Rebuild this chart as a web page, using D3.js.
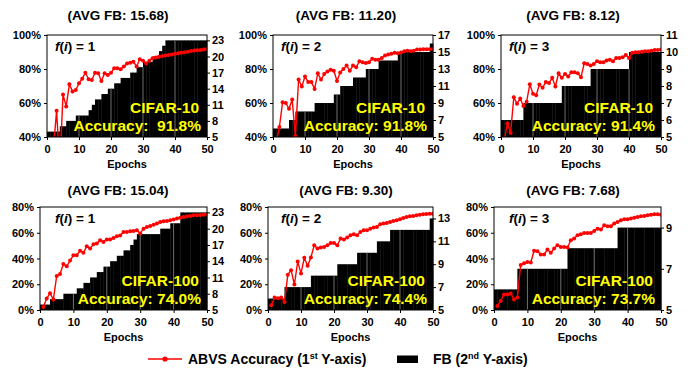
<!DOCTYPE html>
<html>
<head>
<meta charset="utf-8">
<script src="https://cdn.jsdelivr.net/npm/d3@7/dist/d3.min.js"></script>
<style>
  body { margin: 0; background: #fff; }
  svg text { font-family: "Liberation Sans", Arial, sans-serif; font-weight: bold; fill: #000; }
</style>
</head>
<body>
<svg id="chart" width="692" height="370"></svg>
<script>
// ---- data ----
const epochs = d3.range(1, 51);
const xTicks = [0, 10, 20, 30, 40, 50];

const titles = ["(AVG FB: 15.68)", "(AVG FB: 11.20)", "(AVG FB: 8.12)",
                "(AVG FB: 15.04)", "(AVG FB: 9.30)", "(AVG FB: 7.68)"];
const fLabels = ["1", "2", "3", "1", "2", "3"];
const datasets = ["CIFAR-10", "CIFAR-10", "CIFAR-10", "CIFAR-100", "CIFAR-100", "CIFAR-100"];
const accLabels = ["Accuracy:  91.8%", "Accuracy: 91.8%", "Accuracy: 91.4%",
                   "Accuracy: 74.0%", "Accuracy: 74.4%", "Accuracy: 73.7%"];

// ABVS accuracy (%) per epoch
const acc10f1 = [25, 33, 55.5, 22, 65, 58, 71, 66.7, 67.6, 71.6, 74.3, 77.8, 74, 73.5, 77.8, 77.5, 73, 77.5, 76.5, 77.8,
  80.4, 80.4, 79.8, 81.4, 83.3, 83.7, 84.3, 81.4, 85.7, 84.9, 83.3, 84.9, 86.3, 86.8, 87.2, 87.6, 88, 88.3, 88.6, 89,
  89.3, 89.6, 89.9, 90.2, 90.6, 90.9, 91, 91.2, 91.5, 91.8];
const acc10f2 = [37, 45.9, 60.5, 60, 56.6, 62, 40.4, 73.8, 69.7, 75.6, 72.3, 72.3, 68.3, 77.5, 73.8, 77, 78.5, 79.5, 79, 73,
  78, 80, 82, 79, 82, 81, 84.5, 84, 83.6, 84, 86, 85.4, 85.4, 86.5, 87.9, 88.5, 88.9, 89.5, 89.3, 89.7,
  90.5, 90.8, 90.5, 90.8, 91.4, 91.4, 91.6, 91.6, 91.6, 91.8];
const acc10f3 = [38, 48, 42.4, 63.4, 59.6, 62.6, 58.2, 60.7, 71, 65.4, 64.6, 70.9, 68.9, 72.3, 71.7, 74.8, 69.7, 77.5, 74.8, 77.1,
  75.6, 78.1, 78.1, 77.5, 75.2, 83.4, 83, 82, 83, 84.6, 84, 84, 85, 85.4, 84.6, 86.5, 86.5, 86.9, 88.3, 86.5,
  89.5, 89.8, 89.8, 90.2, 90.4, 90.4, 90.8, 91.2, 91.2, 91.4];
const acc100f1 = [2.4, 8.9, 13.1, 8.1, 26.5, 28, 35.8, 33.9, 38.4, 42.5, 42.6, 46, 44.4, 49.5, 47.7, 51, 51.6, 54.2, 52.9, 54.8,
  54.8, 56, 57.2, 57.8, 60.6, 60.6, 61.2, 61.4, 61.9, 59.4, 63.2, 64.5, 65.3, 66.3, 67.1, 68.4, 68.9, 69.2, 69.7, 70.2,
  71, 71.7, 72.3, 72.8, 73, 73.5, 73.5, 73.8, 74, 74.3];
const acc100f2 = [3.6, 9.8, 9.2, 9.8, 6.3, 27.3, 30.9, 19.8, 37.6, 28.4, 40.5, 34.3, 40.8, 50.3, 47.7, 48.5, 49, 50.3, 52.1, 52.1,
  50.3, 55.5, 54.7, 56.3, 58, 58.8, 58, 60.6, 61.9, 61.9, 63.2, 64, 64.5, 66.6, 67.1, 67.6, 68.4, 69.2, 69.7, 70.5,
  71.5, 72.3, 72.8, 73, 73.5, 74, 74.3, 74.6, 74.8, 74.8];
const acc100f3 = [3.1, 7, 12.1, 12.1, 12.8, 8.1, 9.8, 35, 36.3, 37.2, 36.9, 46, 45.7, 43.1, 43.1, 47, 44.4, 47.7, 50.3, 49,
  49, 48.5, 54.2, 55.5, 58, 58.8, 59.9, 59.9, 59.9, 61.4, 63.2, 62.5, 65.8, 65, 65, 67.1, 68.4, 69.7, 70.5, 70.5,
  71, 71.7, 72.3, 72.8, 73, 73.5, 74, 74.3, 74.3, 74];

// FB per epoch (2nd y-axis)
const fb10f1 = [6, 6, 6, 6, 7, 7, 8, 8, 8, 9, 9, 9, 9, 10, 11, 12, 12, 13, 13, 14,
  14, 15, 15, 16, 16, 16, 17, 17, 18, 18, 19, 19, 19, 20, 20, 21, 22, 23, 23, 23,
  23, 23, 23, 23, 23, 23, 23, 23, 23, 23];
const fb10f2 = [6, 6, 6, 6, 6, 7, 7, 8, 8, 8, 8, 8, 8, 9, 9, 9, 9, 9, 9, 10,
  10, 11, 11, 11, 11, 12, 12, 12, 12, 13, 13, 13, 13, 14, 14, 14, 14, 14, 14, 15,
  15, 15, 15, 15, 15, 15, 15, 15, 15, 16];
const fb10f3 = [6, 6, 6, 6, 6, 6, 6, 7, 7, 7, 7, 7, 7, 7, 7, 7, 7, 7, 7, 8,
  8, 8, 8, 8, 8, 8, 8, 8, 9, 9, 9, 9, 9, 9, 9, 9, 9, 9, 9, 9,
  10, 10, 10, 10, 10, 10, 10, 10, 10, 10];
const fb100f1 = [6, 6, 6, 7, 7, 7, 7, 8, 8, 8, 8, 9, 9, 10, 10, 11, 11, 12, 12, 13,
  13, 14, 14, 15, 15, 16, 16, 17, 18, 19, 19, 19, 19, 19, 19, 19, 20, 20, 20, 21,
  21, 21, 23, 23, 23, 23, 23, 23, 23, 23];
const fb100f2 = [6, 6, 6, 6, 6, 7, 7, 7, 7, 7, 7, 7, 7, 8, 8, 8, 8, 8, 8, 8,
  8, 9, 9, 9, 9, 9, 9, 10, 10, 10, 10, 10, 10, 11, 11, 11, 11, 12, 12, 12,
  12, 12, 12, 12, 12, 12, 12, 12, 12, 13];
const fb100f3 = [6, 6, 6, 6, 6, 6, 6, 7, 7, 7, 7, 7, 7, 7, 7, 7, 7, 7, 7, 7,
  7, 7, 8, 8, 8, 8, 8, 8, 8, 8, 8, 8, 8, 8, 8, 8, 8, 9, 9, 9,
  9, 9, 9, 9, 9, 9, 9, 9, 9, 9];

const accTicksTop = [40, 60, 80, 100];
const accTicksBottom = [0, 20, 40, 60, 80];
const fbTicks = [[5, 8, 11, 14, 17, 20, 23], [5, 7, 9, 11, 13, 15, 17], [5, 6, 7, 8, 9, 10, 11],
                 [5, 8, 11, 14, 17, 20, 23], [5, 7, 9, 11, 13], [5, 7, 9]];
const fbMax = [24, 17, 11, 24, 14, 10];

// ---- layout ----
const accSeries = [acc10f1, acc10f2, acc10f3, acc100f1, acc100f2, acc100f3];
const fbSeries = [fb10f1, fb10f2, fb10f3, fb100f1, fb100f2, fb100f3];
const colLeftTop = [47, 273, 501];
const colLeftBottom = [40, 268, 494];
const colRight = [207, 433, 661];
const titleX = [118, 346, 573];
const rows = [{top: 35, bottom: 137, titleY: 20, ticks: accTicksTop, dom: [40, 100]},
              {top: 207, bottom: 310, titleY: 194.5, ticks: accTicksBottom, dom: [0, 80]}];

const svg = d3.select("#chart");
const red = "#ff0000";

accSeries.forEach((acc, i) => {
  const r = rows[Math.floor(i / 3)], c = i % 3;
  const left = i < 3 ? colLeftTop[c] : colLeftBottom[c];
  const right = colRight[c];
  const x = d3.scaleLinear().domain([0, 50]).range([left, right]);
  const yAcc = d3.scaleLinear().domain(r.dom).range([r.bottom, r.top]);
  const yFb = d3.scaleLinear().domain([5, fbMax[i]]).range([r.bottom, r.top]);
  const fb = fbSeries[i];
  const g = svg.append("g");

  svg.append("clipPath").attr("id", "clip" + i)
    .append("rect").attr("x", left).attr("y", r.top).attr("width", right - left).attr("height", r.bottom - r.top);

  // FB bars
  g.append("g").selectAll("rect").data(fb).join("rect")
    .attr("x", (d, k) => x(k))
    .attr("width", (d, k) => x(k + 1) - x(k) + 0.4)
    .attr("y", d => yFb(d))
    .attr("height", d => r.bottom - yFb(d))
    .attr("fill", "#000");

  // faint seams between bars
  g.append("g").selectAll("line").data([10, 20, 30, 40]).join("line")
    .attr("x1", d => x(d)).attr("x2", d => x(d))
    .attr("y1", r.bottom)
    .attr("y2", d => yFb(Math.min(fb[d - 1], fb[d])))
    .attr("stroke", "#8a8a8a").attr("stroke-width", 0.8);

  // accuracy line
  const lg = g.append("g").attr("clip-path", "url(#clip" + i + ")");
  lg.append("path").datum(acc)
    .attr("fill", "none").attr("stroke", red).attr("stroke-width", 1.4)
    .attr("d", d3.line().x((d, k) => x(epochs[k])).y(d => yAcc(d)));
  lg.selectAll("circle").data(acc).join("circle")
    .attr("cx", (d, k) => x(epochs[k])).attr("cy", d => yAcc(d)).attr("r", 2)
    .attr("fill", red);

  // frame
  g.append("rect").attr("x", left).attr("y", r.top)
    .attr("width", right - left).attr("height", r.bottom - r.top)
    .attr("fill", "none").attr("stroke", "#000").attr("stroke-width", 1);

  // axes
  const ax = g.append("g").attr("transform", `translate(0,${r.bottom})`)
    .call(d3.axisBottom(x).tickValues(xTicks).tickSize(3).tickPadding(5));
  const ay = g.append("g").attr("transform", `translate(${left},0)`)
    .call(d3.axisLeft(yAcc).tickValues(r.ticks).tickFormat(d => d + "%").tickSize(3).tickPadding(3));
  const ay2 = g.append("g").attr("transform", `translate(${right},0)`)
    .call(d3.axisRight(yFb).tickValues(fbTicks[i]).tickFormat(d3.format("d")).tickSize(3).tickPadding(2));
  [ax, ay, ay2].forEach(a => {
    a.select(".domain").remove();
    a.selectAll("text").attr("font-size", 11).attr("font-family", null);
    a.attr("font-family", null);
  });

  // labels
  g.append("text").attr("x", titleX[c]).attr("y", r.titleY)
    .attr("text-anchor", "middle").attr("font-size", 13.5).text(titles[i]);
  g.append("text").attr("x", (left + right) / 2).attr("y", r.bottom + 31)
    .attr("text-anchor", "middle").attr("font-size", 11).text("Epochs");

  const ft = g.append("text").attr("x", colLeftTop[c] + 8).attr("y", r.top + 16).attr("font-size", 13.5);
  ft.append("tspan").attr("font-style", "italic").text("f");
  ft.append("tspan").text("(");
  ft.append("tspan").attr("font-style", "italic").text("i");
  ft.append("tspan").text(") = " + fLabels[i]);

  g.append("text").attr("x", right - 8).attr("y", r.bottom - 24)
    .attr("text-anchor", "end").attr("font-size", 15.5).style("fill", "#ffff00").text(datasets[i]);
  g.append("text").attr("x", right - 6).attr("y", r.bottom - 6)
    .attr("text-anchor", "end").attr("font-size", 15.5).style("fill", "#ffff00")
    .style("white-space", "pre").text(accLabels[i]);
});

// ---- legend ----
const leg = svg.append("g");
leg.append("line").attr("x1", 148).attr("x2", 182).attr("y1", 359).attr("y2", 359)
  .attr("stroke", red).attr("stroke-width", 1.6);
leg.append("circle").attr("cx", 165).attr("cy", 359).attr("r", 2.6).attr("fill", red);
const t1 = leg.append("text").attr("x", 188).attr("y", 364).attr("font-size", 14);
t1.append("tspan").text("ABVS Accuracy (1");
t1.append("tspan").attr("font-size", 9).attr("dy", -5).text("st");
t1.append("tspan").attr("dy", 5).text(" Y-axis)");
leg.append("rect").attr("x", 397).attr("y", 355.5).attr("width", 21).attr("height", 7.5).attr("fill", "#000");
const t2 = leg.append("text").attr("x", 433).attr("y", 364).attr("font-size", 14);
t2.append("tspan").text("FB (2");
t2.append("tspan").attr("font-size", 9).attr("dy", -5).text("nd");
t2.append("tspan").attr("dy", 5).text(" Y-axis)");
</script>
</body>
</html>
